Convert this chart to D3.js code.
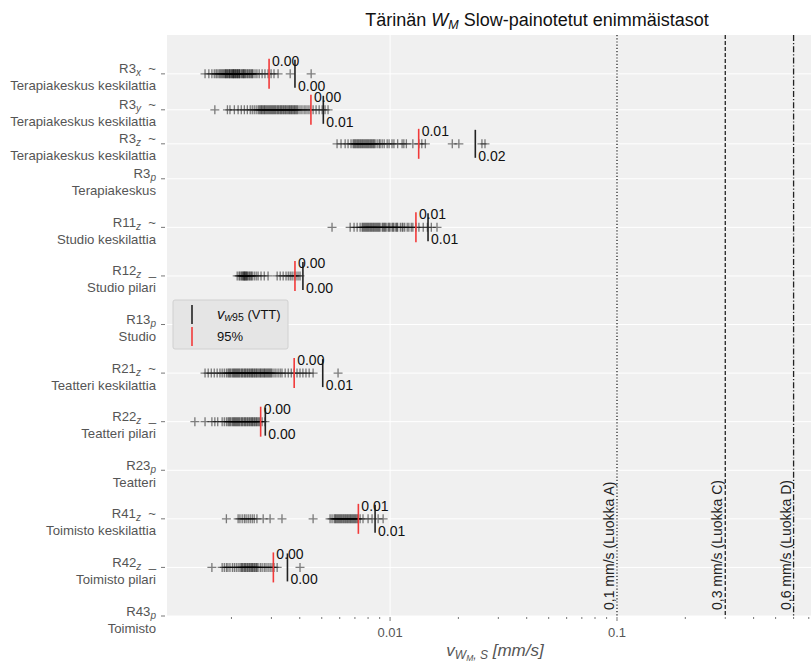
<!DOCTYPE html>
<html>
<head>
<meta charset="utf-8">
<script src="https://cdn.jsdelivr.net/npm/d3@7"></script>
<style>
  body { margin: 0; background: #fff; }
  text { font-family: "Liberation Sans", Arial, sans-serif; }
</style>
</head>
<body>
<div id="vis"></div>
<script>
// rows, top to bottom
const rowCodes = ["R3", "R3", "R3", "R3", "R11", "R12", "R13", "R21", "R22", "R23", "R41", "R42", "R43"];
const rowAxes = ["x", "y", "z", "p", "z", "z", "p", "z", "z", "p", "z", "z", "p"];
const rowMarks = ["~", "~", "~", "", "~", "_", "", "~", "_", "", "~", "_", ""];
const rowPlaces = ["Terapiakeskus keskilattia", "Terapiakeskus keskilattia", "Terapiakeskus keskilattia", "Terapiakeskus",
  "Studio keskilattia", "Studio pilari", "Studio", "Teatteri keskilattia", "Teatteri pilari", "Teatteri",
  "Toimisto keskilattia", "Toimisto pilari", "Toimisto"];
const rowSlots = [0, 0.74, 1.44, 2.16, 3.16, 4.16, 5.16, 6.16, 7.16, 8.16, 9.16, 10.16, 11.16];

// measured maxima per row [mm/s]
const pointsR3x = [0.00153, 0.00159, 0.00164, 0.00168, 0.00171, 0.00173, 0.00176, 0.00178, 0.00180, 0.00182, 0.00184, 0.00186, 0.00188, 0.00189, 0.00190, 0.00192, 0.00193, 0.00195, 0.00196, 0.00197, 0.00199, 0.00200, 0.00202, 0.00203, 0.00204, 0.00205, 0.00206, 0.00208, 0.00209, 0.00210, 0.00212, 0.00213, 0.00214, 0.00216, 0.00217, 0.00218, 0.00221, 0.00223, 0.00225, 0.00226, 0.00228, 0.00230, 0.00232, 0.00235, 0.00237, 0.00240, 0.00242, 0.00245, 0.00247, 0.00249, 0.00254, 0.00259, 0.00265, 0.00273, 0.00281, 0.00290, 0.00299, 0.00308, 0.00321, 0.00363, 0.00449];
const pointsR3y = [0.00169, 0.00192, 0.00197, 0.00206, 0.00214, 0.00221, 0.00228, 0.00235, 0.00242, 0.00247, 0.00252, 0.00257, 0.00262, 0.00265, 0.00268, 0.00271, 0.00273, 0.00276, 0.00279, 0.00281, 0.00284, 0.00287, 0.00290, 0.00293, 0.00296, 0.00299, 0.00302, 0.00305, 0.00308, 0.00311, 0.00314, 0.00318, 0.00321, 0.00324, 0.00328, 0.00331, 0.00334, 0.00338, 0.00341, 0.00345, 0.00348, 0.00352, 0.00356, 0.00360, 0.00363, 0.00367, 0.00370, 0.00374, 0.00378, 0.00381, 0.00385, 0.00389, 0.00393, 0.00401, 0.00409, 0.00418, 0.00426, 0.00435, 0.00444, 0.00458, 0.00472, 0.00487, 0.00502, 0.00517, 0.00533];
const pointsR3z = [0.00584, 0.00608, 0.00634, 0.00653, 0.00673, 0.00687, 0.00694, 0.00701, 0.00708, 0.00716, 0.00723, 0.00730, 0.00738, 0.00745, 0.00753, 0.00760, 0.00768, 0.00776, 0.00784, 0.00792, 0.00800, 0.00808, 0.00817, 0.00825, 0.00833, 0.00842, 0.00850, 0.00859, 0.00877, 0.00895, 0.00904, 0.00923, 0.00942, 0.00971, 0.00990, 0.0102, 0.0104, 0.0108, 0.0113, 0.0115, 0.0118, 0.0126, 0.0134, 0.0138, 0.0143, 0.0188, 0.0201, 0.0254, 0.0262];
const pointsR11z = [0.00555, 0.00667, 0.00694, 0.00716, 0.00738, 0.00753, 0.00760, 0.00768, 0.00776, 0.00784, 0.00792, 0.00800, 0.00808, 0.00817, 0.00825, 0.00833, 0.00842, 0.00850, 0.00859, 0.00868, 0.00877, 0.00886, 0.00895, 0.00904, 0.00923, 0.00932, 0.00942, 0.00951, 0.00961, 0.00980, 0.00990, 0.0100, 0.0102, 0.0103, 0.0104, 0.0106, 0.0107, 0.0108, 0.0111, 0.0113, 0.0114, 0.0116, 0.0119, 0.0121, 0.0124, 0.0126, 0.0130, 0.0134, 0.0140, 0.0146, 0.0152, 0.0161];
const pointsR12z = [0.00212, 0.00216, 0.00218, 0.00221, 0.00223, 0.00225, 0.00226, 0.00228, 0.00229, 0.00230, 0.00232, 0.00233, 0.00235, 0.00237, 0.00240, 0.00242, 0.00245, 0.00247, 0.00252, 0.00257, 0.00262, 0.00270, 0.00279, 0.00290, 0.00318, 0.00328, 0.00338, 0.00348, 0.00356, 0.00363, 0.00370, 0.00378, 0.00385, 0.00393, 0.00401];
const pointsR21z = [0.00153, 0.00158, 0.00163, 0.00168, 0.00173, 0.00178, 0.00182, 0.00186, 0.00190, 0.00193, 0.00195, 0.00197, 0.00199, 0.00202, 0.00204, 0.00206, 0.00208, 0.00210, 0.00212, 0.00214, 0.00216, 0.00218, 0.00221, 0.00223, 0.00225, 0.00228, 0.00230, 0.00232, 0.00235, 0.00237, 0.00240, 0.00242, 0.00245, 0.00247, 0.00249, 0.00252, 0.00254, 0.00257, 0.00259, 0.00262, 0.00265, 0.00268, 0.00270, 0.00273, 0.00276, 0.00279, 0.00281, 0.00284, 0.00287, 0.00290, 0.00293, 0.00296, 0.00299, 0.00302, 0.00308, 0.00314, 0.00321, 0.00328, 0.00334, 0.00345, 0.00356, 0.00367, 0.00378, 0.00389, 0.00401, 0.00413, 0.00426, 0.00440, 0.00458, 0.00590];
const pointsR22z = [0.00138, 0.00153, 0.00164, 0.00169, 0.00174, 0.00182, 0.00186, 0.00190, 0.00193, 0.00195, 0.00197, 0.00199, 0.00202, 0.00204, 0.00206, 0.00208, 0.00210, 0.00212, 0.00214, 0.00216, 0.00218, 0.00221, 0.00223, 0.00225, 0.00228, 0.00230, 0.00232, 0.00235, 0.00237, 0.00240, 0.00242, 0.00245, 0.00247, 0.00249, 0.00252, 0.00254, 0.00257, 0.00259, 0.00262, 0.00265, 0.00268, 0.00273, 0.00281];
const pointsR41z = [0.00190, 0.00214, 0.00218, 0.00223, 0.00228, 0.00232, 0.00237, 0.00242, 0.00247, 0.00252, 0.00259, 0.00276, 0.00296, 0.00334, 0.00458, 0.00544, 0.00555, 0.00567, 0.00573, 0.00578, 0.00584, 0.00590, 0.00596, 0.00602, 0.00608, 0.00614, 0.00621, 0.00627, 0.00634, 0.00640, 0.00647, 0.00653, 0.00660, 0.00667, 0.00673, 0.00680, 0.00687, 0.00694, 0.00701, 0.00708, 0.00716, 0.00723, 0.00738, 0.00760, 0.00800, 0.00833, 0.00886, 0.00932];
const pointsR42z = [0.00164, 0.00182, 0.00186, 0.00190, 0.00193, 0.00197, 0.00202, 0.00206, 0.00210, 0.00214, 0.00218, 0.00221, 0.00223, 0.00225, 0.00228, 0.00230, 0.00232, 0.00235, 0.00237, 0.00240, 0.00242, 0.00245, 0.00247, 0.00249, 0.00252, 0.00254, 0.00257, 0.00259, 0.00262, 0.00268, 0.00273, 0.00279, 0.00284, 0.00290, 0.00296, 0.00302, 0.00308, 0.00318, 0.00401];

const rowPoints = [pointsR3x, pointsR3y, pointsR3z, [], pointsR11z, pointsR12z, [], pointsR21z, pointsR22z, [], pointsR41z, pointsR42z, []];
// v_w95 (VTT) and 95 % values per row, null = no data
const vw95 = [0.00381, 0.00508, 0.02375, null, 0.0147, 0.00413, null, 0.00505, 0.00282, null, 0.00859, 0.00353, null];
const p95 = [0.00293, 0.00448, 0.01337, null, 0.0130, 0.00381, null, 0.00378, 0.00269, null, 0.00725, 0.00306, null];

// comfort class limits
const limitValues = [0.1, 0.3, 0.6];
const limitLabels = ["0,1 mm/s (Luokka A)", "0,3 mm/s (Luokka C)", "0,6 mm/s (Luokka D)"];
const limitDash = ["1.2,2", "4,2", "6,2,1.2,2"];

const W = 811, H = 663;
const plotLeft = 167, plotRight = 811, plotTop = 35, plotBottom = 616;

const svg = d3.select("#vis").append("svg").attr("width", W).attr("height", H);

const x = d3.scaleLog().domain([0.00104, 0.716]).range([plotLeft, plotRight]);
const y = d3.scaleLinear().domain([-0.8, 11.16]).range([plotTop, plotBottom]);

svg.append("rect")
  .attr("x", plotLeft).attr("y", plotTop)
  .attr("width", plotRight - plotLeft).attr("height", plotBottom - plotTop)
  .attr("fill", "#f0f0f0");

// grid
const majors = [0.01, 0.1];
svg.append("g").selectAll("line").data(majors).enter().append("line")
  .attr("x1", d => x(d)).attr("x2", d => x(d))
  .attr("y1", plotTop).attr("y2", plotBottom)
  .attr("stroke", "#fff").attr("stroke-width", 1);
svg.append("g").selectAll("line").data(rowSlots).enter().append("line")
  .attr("x1", plotLeft).attr("x2", plotRight)
  .attr("y1", d => y(d)).attr("y2", d => y(d))
  .attr("stroke", "#fff").attr("stroke-width", 1);

// x axis ticks
const xTicks = x.ticks().filter(d => d >= x.domain()[0] && d <= x.domain()[1]);
const isMajor = d => Math.abs(Math.log10(d) - Math.round(Math.log10(d))) < 1e-6;
svg.append("g").selectAll("line").data(xTicks).enter().append("line")
  .attr("x1", d => x(d)).attr("x2", d => x(d))
  .attr("y1", plotBottom + 1).attr("y2", d => plotBottom + (isMajor(d) ? 5 : 3))
  .attr("stroke", "#555").attr("stroke-width", 0.8);
svg.append("g").selectAll("text").data(majors).enter().append("text")
  .attr("x", d => x(d)).attr("y", 637)
  .attr("text-anchor", "middle")
  .attr("font-size", 13).attr("fill", "#555")
  .text(d => String(d));

// y axis ticks and labels
const yAx = svg.append("g");
yAx.selectAll("line").data(rowSlots).enter().append("line")
  .attr("x1", plotLeft - 6).attr("x2", plotLeft - 2)
  .attr("y1", d => y(d)).attr("y2", d => y(d))
  .attr("stroke", "#555").attr("stroke-width", 0.8);

rowCodes.forEach((code, i) => {
  const yy = y(rowSlots[i]);
  const t = yAx.append("text")
    .attr("x", 156).attr("y", yy - 0.5)
    .attr("text-anchor", "end")
    .attr("font-size", 13.2).attr("fill", "#555");
  t.append("tspan").text(code);
  t.append("tspan").attr("font-style", "italic").attr("font-size", 10)
    .attr("dy", 3).text(rowAxes[i]);
  t.append("tspan").attr("dy", -3).text(rowMarks[i] ? "\u00a0\u00a0" + rowMarks[i] : "");
  yAx.append("text")
    .attr("x", 156).attr("y", yy + 16.5)
    .attr("text-anchor", "end")
    .attr("font-size", 13.2).attr("fill", "#555")
    .text(rowPlaces[i]);
});

// limit lines
limitValues.forEach((v, i) => {
  svg.append("line")
    .attr("x1", x(v)).attr("x2", x(v))
    .attr("y1", plotTop).attr("y2", plotBottom)
    .attr("stroke", "#222").attr("stroke-width", 1.3)
    .attr("stroke-dasharray", limitDash[i]);
  svg.append("text")
    .attr("transform", "translate(" + (x(v) - 3) + "," + 610 + ") rotate(-90)")
    .attr("font-size", 14).attr("fill", "#222")
    .text(limitLabels[i]);
});

// scatter of plus markers
const plus = "M-4.5,0H4.5M0,-4.5V4.5";
rowPoints.forEach((pts, i) => {
  svg.append("g").selectAll("path").data(pts).enter().append("path")
    .attr("d", plus)
    .attr("transform", d => "translate(" + x(d) + "," + y(rowSlots[i]) + ")")
    .attr("stroke", "#000").attr("stroke-opacity", 0.5)
    .attr("stroke-width", 1.3).attr("fill", "none");
});

// 95 % and v_w95 markers with values
const fmt = d3.format(".2f");
rowCodes.forEach((code, i) => {
  if (vw95[i] == null) return;
  const yy = y(rowSlots[i]);
  svg.append("line")
    .attr("x1", x(vw95[i])).attr("x2", x(vw95[i]))
    .attr("y1", yy - 14).attr("y2", yy + 14)
    .attr("stroke", "#222").attr("stroke-width", 1.6);
  svg.append("line")
    .attr("x1", x(p95[i])).attr("x2", x(p95[i]))
    .attr("y1", yy - 15).attr("y2", yy + 15)
    .attr("stroke", "#f23a3a").attr("stroke-width", 1.6);
  svg.append("text")
    .attr("x", x(p95[i]) + 3).attr("y", yy - 8)
    .attr("font-size", 14).attr("fill", "#111")
    .text(fmt(p95[i]));
  svg.append("text")
    .attr("x", x(vw95[i]) + 3).attr("y", yy + 17)
    .attr("font-size", 14).attr("fill", "#111")
    .text(fmt(vw95[i]));
});

// legend
const lg = svg.append("g");
lg.append("rect")
  .attr("x", 173).attr("y", 300).attr("width", 115).attr("height", 49)
  .attr("rx", 2)
  .attr("fill", "#e5e5e5").attr("stroke", "#d0d0d0");
lg.append("line").attr("x1", 192).attr("x2", 192).attr("y1", 305).attr("y2", 324)
  .attr("stroke", "#222").attr("stroke-width", 1.6);
lg.append("line").attr("x1", 192).attr("x2", 192).attr("y1", 327).attr("y2", 346)
  .attr("stroke", "#f23a3a").attr("stroke-width", 1.6);
const l1 = lg.append("text").attr("x", 217).attr("y", 319).attr("font-size", 13).attr("fill", "#111");
l1.append("tspan").attr("font-style", "italic").attr("font-size", 15).text("v");
l1.append("tspan").attr("font-style", "italic").attr("font-size", 10.5).attr("dy", 2).text("w");
l1.append("tspan").attr("font-size", 10.5).text("95");
l1.append("tspan").attr("dy", -2).text(" (VTT)");
lg.append("text").attr("x", 217).attr("y", 341).attr("font-size", 13).attr("fill", "#111").text("95%");

// title
const title = svg.append("text")
  .attr("x", 537).attr("y", 26)
  .attr("text-anchor", "middle")
  .attr("font-size", 18).attr("fill", "#111");
title.append("tspan").text("Tärinän ");
title.append("tspan").attr("font-style", "italic").text("W");
title.append("tspan").attr("font-style", "italic").attr("font-size", 12.5).attr("dy", 3).text("M");
title.append("tspan").attr("dy", -3).text(" Slow-painotetut enimmäistasot");

// x label
const xl = svg.append("text")
  .attr("x", 495).attr("y", 656)
  .attr("text-anchor", "middle")
  .attr("font-size", 17).attr("fill", "#555")
  .attr("font-style", "italic");
xl.append("tspan").text("v");
xl.append("tspan").attr("font-size", 12).attr("dy", 3).text("W");
xl.append("tspan").attr("font-size", 8.5).attr("dy", 2).text("M");
xl.append("tspan").attr("font-size", 12).attr("dy", -2).text(", S");
xl.append("tspan").attr("dy", -3).text(" [mm/s]");
</script>
</body>
</html>
